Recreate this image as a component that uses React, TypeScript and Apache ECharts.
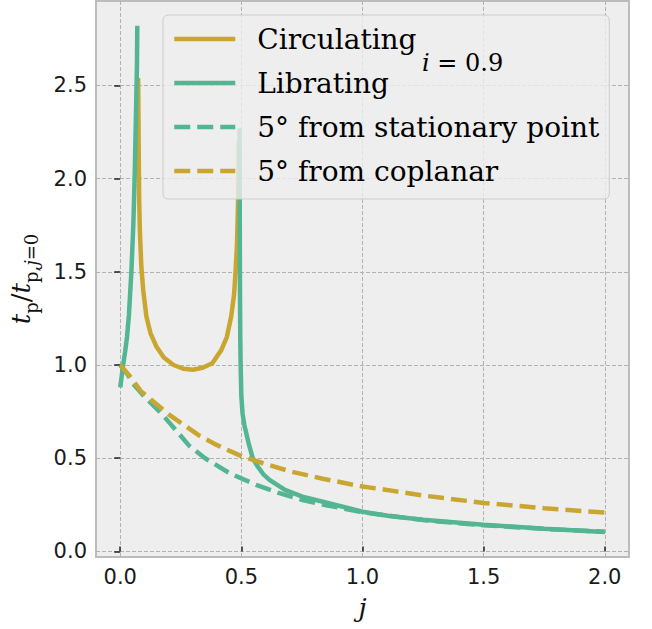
import React, { useEffect, useRef } from "react";
import * as echarts from "echarts";

// Circulating (gold, solid)
const circJ = [0.074, 0.076, 0.078, 0.081, 0.087, 0.095, 0.108, 0.125, 0.149, 0.18, 0.22, 0.26, 0.3, 0.34, 0.38, 0.417, 0.44, 0.458, 0.47, 0.476, 0.482, 0.486, 0.488, 0.489];
const circT = [2.54, 2.2, 1.9, 1.72, 1.53, 1.4, 1.26, 1.17, 1.1, 1.04, 1.0, 0.98, 0.975, 0.985, 1.01, 1.08, 1.15, 1.26, 1.38, 1.5, 1.65, 1.85, 2.05, 2.2];

// Librating (teal, solid) — two branches, separated by a gap (null)
const libJ = [0, 0.006, 0.012, 0.02, 0.028, 0.036, 0.046, 0.054, 0.06, 0.065, 0.069, 0.0705, 0.3, 0.4925, 0.4932, 0.4938, 0.4945, 0.4955, 0.497, 0.5, 0.505, 0.512, 0.52, 0.53, 0.547, 0.565, 0.59, 0.616, 0.68, 0.752, 0.865, 1.0, 1.11, 1.25, 1.5, 1.75, 2.0];
const libT = [0.88, 0.94, 1.0, 1.07, 1.15, 1.27, 1.5, 1.75, 2.03, 2.35, 2.6, 2.82, null, 2.27, 1.9, 1.6, 1.35, 1.15, 1.0, 0.83, 0.74, 0.68, 0.635, 0.58, 0.5, 0.46, 0.415, 0.384, 0.33, 0.294, 0.257, 0.213, 0.19, 0.17, 0.143, 0.122, 0.104];

// 5° from stationary point (teal, dashed)
const statJ = [0, 0.03, 0.053, 0.1, 0.17, 0.23, 0.286, 0.35, 0.451, 0.561, 0.65, 0.753, 0.85, 1.0, 1.25, 1.5, 1.75, 2.0];
const statT = [1.0, 0.95, 0.9, 0.83, 0.74, 0.65, 0.565, 0.5, 0.42, 0.357, 0.315, 0.276, 0.248, 0.21, 0.168, 0.14, 0.121, 0.106];

// 5° from coplanar (gold, dashed)
const coplJ = [0, 0.04, 0.085, 0.15, 0.2, 0.25, 0.328, 0.4, 0.493, 0.589, 0.7, 0.836, 1.0, 1.1, 1.25, 1.5, 1.75, 2.0];
const coplT = [1.0, 0.94, 0.86, 0.79, 0.735, 0.69, 0.62, 0.57, 0.515, 0.473, 0.43, 0.39, 0.348, 0.33, 0.3, 0.26, 0.232, 0.208];

const xTicks = [0, 0.5, 1, 1.5, 2];
const yTicks = [0, 0.5, 1, 1.5, 2, 2.5];

const seriesNames = ["Circulating", "Librating", "5° from stationary point", "5° from coplanar"];

const GOLD = "#c9a62f";
const TEAL = "#53b592";

const zip = (xs: number[], ys: (number | null)[]) => xs.map((x, i) => [x, ys[i]]);

export default function App() {
  const ref = useRef<HTMLDivElement>(null);
  useEffect(() => {
    const chart = echarts.init(ref.current!, null, { renderer: "svg" });
    const lineSeries = (name: string, data: any[], color: string, dashed: boolean) => ({
      name,
      type: "line",
      data,
      symbol: "none",
      showSymbol: false,
      connectNulls: false,
      lineStyle: { width: 4.5, color, type: dashed ? [16, 7] : "solid", cap: "butt" },
      itemStyle: { color },
      emphasis: { disabled: true },
    });
    chart.setOption({
      animation: false,
      backgroundColor: "#ffffff",
      grid: {
        left: 96,
        top: 1,
        right: 23,
        bottom: 72,
        show: true,
        backgroundColor: "#eeeeee",
        borderColor: "#bcbcbc",
        borderWidth: 2,
      },
      xAxis: {
        type: "value",
        min: -0.1,
        max: 2.1,
        axisLine: { show: false },
        axisTick: { show: true, inside: true, length: 5, customValues: xTicks, lineStyle: { color: "#222", width: 1.5 } },
        axisLabel: {
          customValues: xTicks,
          formatter: (v: number) => v.toFixed(1),
          fontFamily: "DejaVu Sans",
          fontSize: 21,
          color: "#1a1a1a",
          margin: 9,
        },
        splitLine: { show: true, lineStyle: { color: "#b2b2b2", width: 1, type: [4, 2] } },
        name: "j",
        nameLocation: "middle",
        nameGap: 38,
        nameTextStyle: { fontFamily: "DejaVu Serif", fontStyle: "italic", fontSize: 26, color: "#111" },
      },
      yAxis: {
        type: "value",
        min: -0.03,
        max: 2.953,
        axisLine: { show: false },
        axisTick: { show: true, inside: false, length: 6, customValues: yTicks, lineStyle: { color: "#222", width: 1.5 } },
        axisLabel: {
          customValues: yTicks,
          formatter: (v: number) => v.toFixed(1),
          fontFamily: "DejaVu Sans",
          fontSize: 21,
          color: "#1a1a1a",
          margin: 9,
        },
        splitLine: { show: true, lineStyle: { color: "#b2b2b2", width: 1, type: [4, 2] } },
        name: "{it|t}{sub|p}{n|/}{it|t}{sub|p,}{subit|j}{sub|=0}",
        nameLocation: "middle",
        nameRotate: 90,
        nameGap: 56,
        nameTextStyle: {
          color: "#111",
          rich: {
            it: { fontFamily: "DejaVu Serif", fontStyle: "italic", fontSize: 26, lineHeight: 38, verticalAlign: "middle", color: "#111" },
            n: { fontFamily: "DejaVu Serif", fontSize: 26, lineHeight: 38, verticalAlign: "middle", color: "#111" },
            sub: { fontFamily: "DejaVu Serif", fontSize: 18, lineHeight: 38, verticalAlign: "bottom", color: "#111" },
            subit: { fontFamily: "DejaVu Serif", fontStyle: "italic", fontSize: 18, lineHeight: 38, verticalAlign: "bottom", color: "#111" },
          },
        },
      },
      legend: {
        orient: "vertical",
        left: 163,
        top: 15,
        itemWidth: 61,
        itemHeight: 2,
        itemGap: 14,
        padding: [9, 10, 13, 9],
        backgroundColor: "rgba(238,238,238,0.8)",
        borderColor: "#cccccc",
        borderWidth: 1,
        borderRadius: 5,
        selectedMode: false,
        data: seriesNames,
        lineStyle: { width: 4.5 },
        textStyle: {
          fontFamily: "DejaVu Serif",
          fontSize: 28,
          lineHeight: 30,
          color: "#000",
          padding: [0, 0, 0, 17],
        },
      },
      graphic: [
        {
          type: "text",
          x: 422,
          y: 63,
          z: 100,
          style: {
            text: "{i|i} = 0.9",
            fontFamily: "DejaVu Serif",
            fontSize: 24,
            fill: "#000",
            verticalAlign: "middle",
            rich: {
              i: { fontFamily: "DejaVu Serif", fontStyle: "italic", fontSize: 24, fill: "#000" },
            },
          },
        },
      ],
      series: [
        lineSeries(seriesNames[0], zip(circJ, circT), GOLD, false),
        lineSeries(seriesNames[1], zip(libJ, libT), TEAL, false),
        lineSeries(seriesNames[2], zip(statJ, statT), TEAL, true),
        lineSeries(seriesNames[3], zip(coplJ, coplT), GOLD, true),
      ],
    });
    return () => chart.dispose();
  }, []);
  return (
    <div
      ref={ref}
      style={{ position: "fixed", left: 0, top: 0, width: 652, height: 629 }}
    />
  );
}
